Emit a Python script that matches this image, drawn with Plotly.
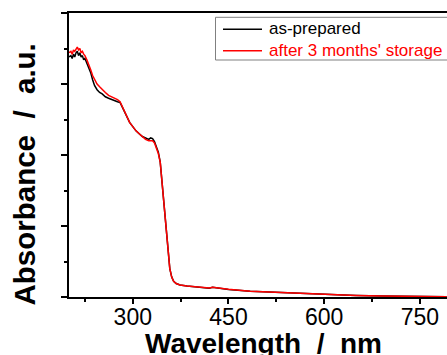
import plotly.graph_objects as go

wavelength = [200, 203, 205, 207, 209, 211, 213, 215, 217, 219, 221, 223, 225, 228, 231, 234, 237, 240,
              244, 248, 252, 257, 262, 267, 272, 276, 280, 285, 290, 295, 300, 305, 310, 315, 320, 325,
              328, 331, 334, 337, 340, 343, 346, 349, 352, 355, 358, 361, 364, 368, 374, 385, 400, 420,
              425, 450, 484, 520, 560, 598, 650, 692, 740, 770, 792]

as_prepared = [1.69, 1.70, 1.68, 1.71, 1.69, 1.72, 1.73, 1.70, 1.72, 1.69, 1.70, 1.67, 1.68, 1.65, 1.62, 1.58, 1.53, 1.49,
               1.46, 1.44, 1.43, 1.41, 1.40, 1.39, 1.38, 1.375, 1.37, 1.32, 1.27, 1.23, 1.20, 1.17, 1.15, 1.13, 1.12, 1.11,
               1.12, 1.115, 1.095, 1.06, 1.02, 0.95, 0.80, 0.62, 0.45, 0.32, 0.20, 0.14, 0.11, 0.095, 0.085, 0.077, 0.070, 0.062,
               0.068, 0.053, 0.040, 0.033, 0.025, 0.016, 0.011, 0.007, 0.004, 0.003, 0.002]

after_storage = [1.72, 1.73, 1.71, 1.74, 1.73, 1.75, 1.76, 1.74, 1.75, 1.72, 1.73, 1.71, 1.70, 1.67, 1.64, 1.60, 1.56, 1.53,
                 1.50, 1.48, 1.46, 1.44, 1.42, 1.41, 1.40, 1.39, 1.375, 1.33, 1.28, 1.23, 1.20, 1.17, 1.15, 1.13, 1.11, 1.10,
                 1.10, 1.10, 1.085, 1.05, 1.01, 0.95, 0.80, 0.62, 0.45, 0.32, 0.20, 0.14, 0.11, 0.095, 0.085, 0.077, 0.071, 0.063,
                 0.069, 0.054, 0.041, 0.034, 0.026, 0.017, 0.011, 0.007, 0.004, 0.003, 0.002]

series_names = ["as-prepared", "after 3 months' storage"]
series_colors = ["#000000", "#ff0000"]

x_ticks = [300, 450, 600, 750]
x_ticklabels = ["300", "450", "600", "750"]
x_title = "Wavelength  /  nm"
y_title = "Absorbance  /  a.u."

W, H = 447, 355
ML, MR, MT, MB = 69, 0, 13, 58
PW, PH = W - ML - MR, H - MT - MB


def px(x):
    return (x - ML) / PW


def py(y):
    return (H - MB - y) / PH


FONT = "Liberation Sans, Arial, sans-serif"

fig = go.Figure()
for vals, name, col in zip([as_prepared, after_storage], series_names, series_colors):
    fig.add_trace(go.Scatter(x=wavelength, y=vals, mode="lines", name=name,
                             line=dict(color=col, width=1.5), showlegend=False))

# legend (box, line samples, labels)
shapes = [dict(type="rect", xref="paper", yref="paper", x0=px(215.5), x1=px(460), y0=py(60), y1=py(17.3),
               line=dict(color="#808080", width=1), fillcolor="white", layer="above")]
annotations = []
for i, (name, col) in enumerate(zip(series_names, series_colors)):
    yy = 29.3 + 21.4 * i
    shapes.append(dict(type="line", xref="paper", yref="paper", x0=px(223), x1=px(262), y0=py(yy), y1=py(yy),
                       line=dict(color=col, width=1.5), layer="above"))
    annotations.append(dict(text=name, xref="paper", yref="paper", x=px(267), y=py(yy - 0.5),
                            xanchor="left", yanchor="middle", showarrow=False,
                            font=dict(size=17, family=FONT, color=col)))

annotations.append(dict(text="<b>" + x_title + "</b>", xref="paper", yref="paper", x=px(263.5), y=py(361),
                        xanchor="center", yanchor="bottom", showarrow=False,
                        font=dict(size=28, family=FONT, color="black")))
annotations.append(dict(text="<b>" + y_title + "</b>", xref="paper", yref="paper", x=px(23.5), y=py(175),
                        xanchor="center", yanchor="middle", showarrow=False, textangle=-90,
                        font=dict(size=29.5, family=FONT, color="black")))

fig.update_layout(
    width=W, height=H,
    margin=dict(l=ML, r=MR, t=MT, b=MB),
    paper_bgcolor="white", plot_bgcolor="white",
    font=dict(family=FONT, color="black"),
    shapes=shapes, annotations=annotations,
    xaxis=dict(range=[200, 792.5], tickvals=x_ticks, ticktext=x_ticklabels,
               showline=True, linecolor="black", linewidth=2, mirror=True,
               ticks="outside", ticklen=5, tickwidth=1.5, tickcolor="black",
               minor=dict(tickvals=[225, 375, 525, 675], ticklen=3, tickwidth=1.5, tickcolor="black", ticks="outside"),
               tickfont=dict(size=23, family=FONT, color="black"), ticklabelstandoff=-7,
               showgrid=False, zeroline=False),
    yaxis=dict(range=[0, 2.0], dtick=0.5, tick0=0, showticklabels=False,
               showline=True, linecolor="black", linewidth=2, mirror=False,
               ticks="outside", ticklen=6, tickwidth=1.5, tickcolor="black",
               minor=dict(dtick=0.25, ticklen=3, tickwidth=1.5, tickcolor="black", ticks="outside"),
               showgrid=False, zeroline=False),
)

fig.write_html("out.html")
